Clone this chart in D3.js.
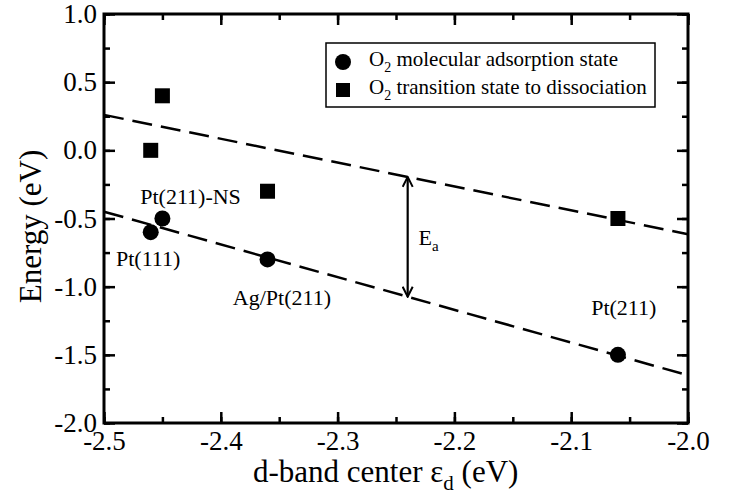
<!DOCTYPE html>
<html><head><meta charset="utf-8">
<script src="https://cdn.jsdelivr.net/npm/d3@7"></script>
<style>
html,body{margin:0;padding:0;background:#fff;}
svg{display:block;}
svg text{font-family:"Liberation Serif","Times New Roman",serif;fill:#000;}
</style></head>
<body><svg id="c" width="736" height="495"></svg>
<script>
// ---- data ----
const adsorptionX = [-2.46, -2.45, -2.36, -2.06];
const adsorptionY = [-0.6, -0.5, -0.8, -1.5];
const transitionX = [-2.46, -2.45, -2.36, -2.06];
const transitionY = [0.0, 0.4, -0.3, -0.5];
const upperFitX = [-2.5, -2.0];
const upperFitY = [0.26, -0.615];
const lowerFitX = [-2.5, -2.0];
const lowerFitY = [-0.45, -1.65];
const arrowX = [-2.24, -2.24];
const arrowY = [-0.195, -1.074];
const xTicks = [-2.5, -2.4, -2.3, -2.2, -2.1, -2.0];
const yTicks = [1.0, 0.5, 0.0, -0.5, -1.0, -1.5, -2.0];
const pointLabels = ["Pt(211)-NS", "Pt(111)", "Ag/Pt(211)", "Pt(211)"];
const pointLabelX = [-2.469, -2.4897, -2.3897, -2.0829];
const pointLabelY = [-0.394, -0.848, -1.134, -1.208];
const legendLabels = [["O", "2", " molecular adsorption state"], ["O", "2", " transition state to dissociation"]];

// ---- layout ----
const W = 736, H = 495;
const L = 104, R = 688, T = 14, B = 423;
const svg = d3.select("#c");
const x = d3.scaleLinear().domain([-2.5, -2.0]).range([L, R]);
const y = d3.scaleLinear().domain([-2.0, 1.0]).range([B, T]);
const fmt = d => d.toFixed(1);
const tickFont = 27;

// minor ticks
const xMinor = d3.range(-2.5, -1.999, 0.05).map(v => +v.toFixed(2));
const yMinor = d3.range(-2.0, 1.001, 0.25).map(v => +v.toFixed(2));

function styleAxis(g){
  g.attr("font-family", null).attr("font-size", null);
  g.select(".domain").remove();
  g.selectAll(".tick line").attr("stroke","#000").attr("stroke-width",2.5);
  g.selectAll("text").attr("fill","#000").style("font-size",tickFont+"px");
}
// bottom
svg.append("g").attr("transform",`translate(0,${B})`)
  .call(d3.axisBottom(x).tickValues(xMinor).tickSize(-6).tickFormat(""))
  .call(styleAxis);
svg.append("g").attr("transform",`translate(0,${B})`)
  .call(d3.axisBottom(x).tickValues(xTicks).tickSize(-11).tickPadding(8).tickFormat(fmt))
  .call(styleAxis);
// top
svg.append("g").attr("transform",`translate(0,${T})`)
  .call(d3.axisTop(x).tickValues(xMinor).tickSize(-6).tickFormat(""))
  .call(styleAxis);
svg.append("g").attr("transform",`translate(0,${T})`)
  .call(d3.axisTop(x).tickValues(xTicks).tickSize(-11).tickFormat(""))
  .call(styleAxis);
// left
svg.append("g").attr("transform",`translate(${L},0)`)
  .call(d3.axisLeft(y).tickValues(yMinor).tickSize(-6).tickFormat(""))
  .call(styleAxis);
svg.append("g").attr("transform",`translate(${L},0)`)
  .call(d3.axisLeft(y).tickValues(yTicks).tickSize(-11).tickPadding(7).tickFormat(fmt))
  .call(styleAxis);
// right
svg.append("g").attr("transform",`translate(${R},0)`)
  .call(d3.axisRight(y).tickValues(yMinor).tickSize(-6).tickFormat(""))
  .call(styleAxis);
svg.append("g").attr("transform",`translate(${R},0)`)
  .call(d3.axisRight(y).tickValues(yTicks).tickSize(-11).tickFormat(""))
  .call(styleAxis);

// frame
svg.append("rect").attr("x",L).attr("y",T).attr("width",R-L).attr("height",B-T)
  .attr("fill","none").attr("stroke","#000").attr("stroke-width",3);

// fit lines
const line = d3.line().x(d=>x(d[0])).y(d=>y(d[1]));
[[upperFitX,upperFitY],[lowerFitX,lowerFitY]].forEach(([xs,ys])=>{
  svg.append("path").datum(xs.map((v,i)=>[v,ys[i]])).attr("d",line)
    .attr("fill","none").attr("stroke","#000").attr("stroke-width",2.5)
    .attr("stroke-dasharray","20,9");
});

// arrow
const defs = svg.append("defs");
defs.append("marker").attr("id","ah").attr("viewBox","0 0 12 12").attr("refX",11).attr("refY",6)
  .attr("markerWidth",12).attr("markerHeight",12).attr("markerUnits","userSpaceOnUse")
  .attr("orient","auto-start-reverse")
  .append("path").attr("d","M1,1 L11,6 L1,11").attr("fill","none").attr("stroke","#000").attr("stroke-width",2);
svg.append("path").datum(arrowX.map((v,i)=>[v,arrowY[i]])).attr("d",line)
  .attr("stroke","#000").attr("stroke-width",2.2).attr("fill","none")
  .attr("marker-start","url(#ah)").attr("marker-end","url(#ah)");
// E_a
const ea = svg.append("text").attr("x",x(-2.2308)).attr("y",y(-0.694)).style("font-size","22px");
ea.append("tspan").text("E");
ea.append("tspan").attr("dy",6).style("font-size","15px").text("a");

// points
svg.append("g").selectAll("circle").data(adsorptionX.map((v,i)=>[v,adsorptionY[i]]))
  .join("circle").attr("cx",d=>x(d[0])).attr("cy",d=>y(d[1])).attr("r",8).attr("fill","#000");
const sq = 15;
svg.append("g").selectAll("rect").data(transitionX.map((v,i)=>[v,transitionY[i]]))
  .join("rect").attr("x",d=>x(d[0])-sq/2).attr("y",d=>y(d[1])-sq/2).attr("width",sq).attr("height",sq).attr("fill","#000");

// point labels
svg.append("g").selectAll("text").data(pointLabels)
  .join("text").attr("x",(d,i)=>x(pointLabelX[i])).attr("y",(d,i)=>y(pointLabelY[i]))
  .style("font-size","22px").text(d=>d);

// legend
const lg = svg.append("g");
lg.append("rect").attr("x",326).attr("y",43).attr("width",329).attr("height",64)
  .attr("fill","#fff").attr("stroke","#000").attr("stroke-width",1.5);
lg.append("circle").attr("cx",343).attr("cy",62).attr("r",8).attr("fill","#000");
lg.append("rect").attr("x",336).attr("y",83).attr("width",14).attr("height",14).attr("fill","#000");
legendLabels.forEach((parts,i)=>{
  const t = lg.append("text").attr("x",369).attr("y",66+i*28).style("font-size","21px");
  t.append("tspan").text(parts[0]);
  t.append("tspan").attr("dy",6).style("font-size","14px").text(parts[1]);
  t.append("tspan").attr("dy",-6).text(parts[2]);
});

// axis titles
const xt = svg.append("text").attr("x",253).attr("y",482).style("font-size","31px");
xt.append("tspan").text("d-band center ε");
xt.append("tspan").attr("dy",8).style("font-size","21px").text("d");
xt.append("tspan").attr("dy",-8).text(" (eV)");
svg.append("text").attr("transform",`translate(41,${(140+313)/2}) rotate(-90)`)
  .attr("text-anchor","middle").style("font-size","31px").text("Energy (eV)");
</script></body></html>
